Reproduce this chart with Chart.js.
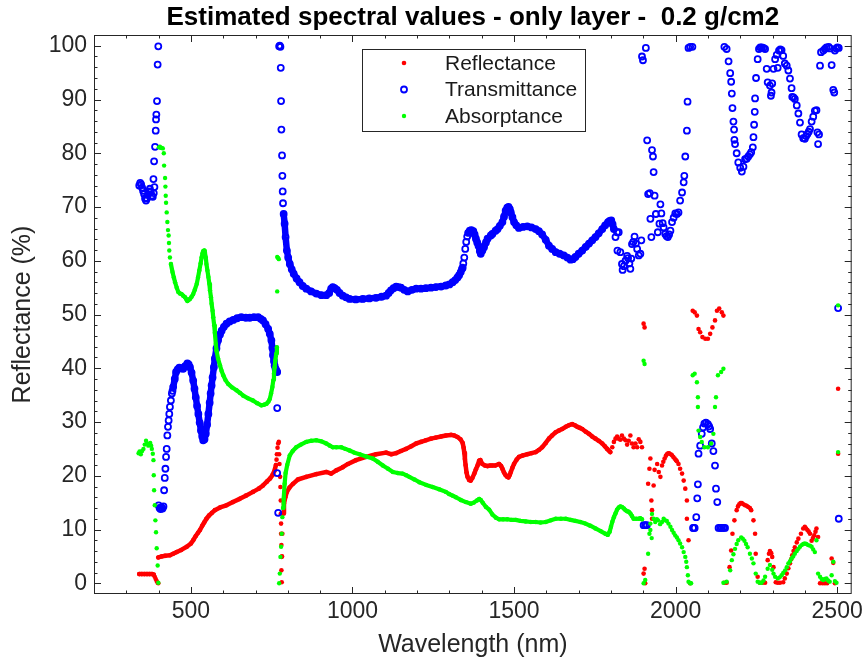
<!DOCTYPE html>
<html>
<head>
<meta charset="utf-8">
<script src="https://cdn.jsdelivr.net/npm/chart.js@4.4.1/dist/chart.umd.min.js"></script>
<style>
  html, body { margin: 0; padding: 0; background: #fff; }
  canvas { display: block; }
</style>
</head>
<body>
<canvas id="chart" width="867" height="664"></canvas>
<script>
// --- Data: [wavelength nm, percent] ---
const titleText = 'Estimated spectral values - only layer -  0.2 g/cm2';
const xTicks = [500, 1000, 1500, 2000, 2500];
const yTicks = [0, 10, 20, 30, 40, 50, 60, 70, 80, 90, 100];
const seriesNames = ['Reflectance', 'Transmittance', 'Absorptance'];

// Reflectance (red)
const reflCurve1 = [[340,1.7],[348,1.7],[356,1.7],[364,1.7],[372,1.7],[380,1.7],[385,1.6]];
const reflCurve2 = [[399,4.8],[410,5.0],[420,5.1],[435,5.2],[445,5.5],[456,5.8],[470,6.2],[487,6.8],[500,7.4],[507,8.0],[515,8.8],[522,9.4],[528,9.9],[535,10.7],[541,11.3],[548,12.0],[556,12.6],[565,13.1],[574,13.6],[590,14.1],[610,14.5],[630,15.1],[651,15.7],[670,16.3],[692,17.0],[710,17.6],[723,18.2],[735,18.9],[745,19.5],[752,20.1],[759,21.0],[763,22.0]];
const reflCurve3 = [[785,13.0],[788,14.8],[792,16.0],[797,17.0],[805,17.8],[816,18.5],[831,19.3],[857,19.8],[888,20.3],[919,20.7],[934,20.4],[950,21.0],[970,21.6],[986,22.2],[1011,22.9],[1042,23.5],[1073,24.0],[1104,24.3],[1120,24.0],[1135,24.2],[1150,24.6],[1166,25.0],[1182,25.5],[1197,26.0],[1212,26.3],[1227,26.6],[1243,26.9],[1258,27.1],[1274,27.3],[1289,27.5],[1305,27.6],[1315,27.5],[1325,27.2],[1334,26.8],[1341,26.1],[1344,25.2],[1346,24.3],[1348,23.1],[1350,22.0],[1353,20.6],[1356,19.8],[1361,19.2],[1366,19.1],[1371,19.6],[1377,20.4],[1382,21.2],[1387,21.9],[1392,22.8],[1396,22.9],[1402,22.2],[1410,21.9],[1418,21.8],[1426,21.9],[1433,21.9],[1442,21.9],[1454,22.2],[1460,21.8],[1464,21.3],[1469,20.6],[1474,20.1],[1479,19.8],[1483,19.7],[1487,20.2],[1490,20.7],[1495,21.5],[1500,22.2],[1508,23.0],[1515,23.5],[1528,23.8],[1541,24.0],[1554,24.2],[1567,24.4],[1577,24.8],[1587,25.3],[1598,26.1],[1608,26.9],[1618,27.5],[1629,28.1],[1639,28.4],[1649,28.7],[1660,29.1],[1670,29.4],[1680,29.6],[1688,29.4],[1696,29.1],[1704,28.9],[1711,28.7],[1722,28.2],[1732,27.8],[1742,27.3],[1752,26.9],[1762,26.5],[1773,26.0],[1781,25.5],[1788,25.0],[1793,24.7],[1798,24.4]];
const reflDots = [[388,1.2],[391,0.8],[394,0.4],[397,0.1],[399,0.0],
  [765,23.0],[766,24.0],[768,25.2],[770,26.0],[772,26.3],[773,24.0],[774,22.2],[776,19.8],[777,17.9],[778,15.4],[778,12.9],[779,11.1],[779,9.2],[780,7.1],[780,4.9],[780,2.4],[781,0.2],[782,5.0],[783,9.2],
  [1804,25.3],[1809,26.3],[1814,26.9],[1819,27.3],[1824,26.9],[1829,26.7],[1834,27.5],[1840,26.9],[1845,26.6],[1850,25.8],[1855,26.5],[1860,27.5],[1865,26.0],[1870,25.3],[1876,26.0],[1881,25.3],[1886,26.8],[1891,26.3],[1896,25.3],
  [1901,48.3],[1904,47.6],[1901,1.8],[1904,2.7],[1906,0.0],[1915,18.5],[1919,21.3],[1922,23.2],[1925,15.4],[1927,13.6],[1927,12.0],[1932,18.2],[1935,21.1],[1943,22.2],[1948,20.7],[1953,19.8],[1958,21.9],[1962,22.6],[1966,23.2],[1970,23.7],[1973,24.0],[1977,24.2],[1980,24.2],[1985,24.0],[1989,23.8],[1993,23.5],[1997,23.2],[2001,22.9],[2004,22.7],[2009,22.2],[2014,21.3],[2020,20.4],[2025,19.1],[2030,17.6],[2035,15.4],[2035,12.0],[2040,8.0],[2045,0.0],
  [2053,50.7],[2059,50.4],[2066,49.8],[2071,47.3],[2076,46.7],[2083,45.8],[2092,45.5],[2100,45.5],[2107,46.4],[2114,47.6],[2122,48.9],[2128,50.7],[2135,51.1],[2143,50.4],[2148,49.8],
  [2151,0.1],[2158,0.1],[2167,3.0],[2172,6.1],[2176,9.2],[2182,11.7],[2189,13.6],[2193,14.3],[2197,14.7],[2201,14.9],[2205,14.9],[2210,14.7],[2215,14.5],[2220,14.4],[2225,14.2],[2230,14.0],[2234,13.6],[2241,11.7],[2246,9.2],[2248,5.5],[2254,1.2],[2261,0.1],[2269,0.1],[2277,0.1],[2285,4.3],[2289,5.5],[2292,6.0],[2296,5.6],[2299,4.9],[2303,3.0],[2310,0.2],[2316,0.1],[2323,0.1],[2333,0.2],[2338,0.9],[2344,1.8],[2349,2.8],[2354,3.7],[2358,4.5],[2361,5.2],[2365,6.0],[2369,6.7],[2375,7.6],[2380,8.3],[2388,9.2],[2395,10.2],[2400,10.5],[2404,10.2],[2408,9.9],[2412,9.6],[2416,9.2],[2421,7.9],[2425,8.4],[2429,8.9],[2433,9.6],[2436,10.2],[2441,8.6],[2447,0.0],[2455,0.0],[2462,0.0],[2469,0.0],[2483,4.6],[2488,3.8],[2493,0.0],[2503,36.2],[2503,24.1]];

// Transmittance (blue)
const transCurve1 = [[445,36.5],[450,38.0],[454,39.3],[459,39.8],[464,40.1],[470,40.0],[476,39.9],[482,40.4],[489,40.9],[493,40.7],[497,40.2],[502,39.2],[507,37.7],[511,36.2],[515,34.6],[519,33.0],[523,31.5],[527,29.9],[531,28.4],[535,27.3],[538,26.6],[542,26.8],[546,27.8],[550,29.5],[554,31.5],[558,33.6],[561,35.3],[564,36.8],[567,38.3],[571,40.2],[574,41.8],[579,43.7],[584,45.2],[590,46.3],[595,47.0],[602,47.7],[610,48.3],[620,48.7],[631,49.0],[643,49.3],[656,49.5],[670,49.4],[682,49.4],[695,49.5],[708,49.5],[716,49.2],[723,48.9],[731,48.2],[739,47.3],[744,46.4],[749,45.2],[752,43.8],[754,42.4],[757,41.3],[759,40.5],[762,39.9],[764,39.6],[767,39.3]];
const transCurve2 = [[787,68.7],[790,66.9],[793,64.4],[797,61.9],[801,60.6],[806,59.4],[812,58.4],[818,57.6],[827,56.7],[836,56.0],[846,55.3],[857,54.8],[872,54.3],[888,53.9],[904,53.6],[919,53.6],[928,54.0],[934,54.8],[939,55.1],[945,54.9],[952,54.6],[960,54.0],[970,53.5],[980,53.2],[991,52.9],[1010,52.8],[1032,52.9],[1052,53.0],[1073,53.1],[1090,53.3],[1104,53.5],[1112,54.0],[1119,54.5],[1127,54.9],[1135,55.2],[1143,55.1],[1150,55.0],[1160,54.6],[1171,54.3],[1184,54.6],[1197,54.8],[1212,54.8],[1227,54.9],[1243,55.0],[1258,55.1],[1274,55.2],[1289,55.4],[1300,55.6],[1310,56.0],[1318,56.4],[1325,56.9],[1330,57.3],[1335,57.9],[1339,58.5]];
const transCurve3 = [[1358,65.2],[1363,65.6],[1368,65.7],[1374,65.5],[1378,64.9],[1382,64.1],[1386,63.4],[1390,62.8],[1394,61.8],[1397,61.3],[1402,61.9],[1407,62.5],[1413,63.4],[1418,64.1],[1428,64.7],[1433,65.0],[1443,65.6],[1449,65.9],[1456,66.5],[1464,67.2],[1469,68.2],[1474,69.3],[1479,69.9],[1483,70.0],[1487,69.6],[1490,69.0],[1495,68.1],[1500,67.2],[1507,66.6],[1515,66.1],[1528,66.3],[1541,66.4],[1554,66.2],[1567,65.9],[1577,65.5],[1587,64.9],[1598,63.9],[1608,62.8],[1618,62.2],[1629,61.6],[1641,61.3],[1654,61.0],[1665,60.6],[1675,60.2],[1682,60.3],[1690,60.7],[1700,61.3],[1711,61.9],[1722,62.6],[1732,63.2],[1742,63.8],[1752,64.4],[1762,65.1],[1773,65.9],[1782,66.6],[1791,67.2],[1796,67.4],[1801,67.5],[1805,66.8],[1809,65.9]];
const transDots = [[340,74.0],[343,74.5],[346,74.2],[349,73.6],[352,73.0],[355,72.4],[358,71.6],[361,71.2],[364,71.6],[367,72.3],[370,72.9],[373,73.4],[376,72.8],[379,72.1],[382,71.9],[385,72.6],[387,73.7],[384,75.2],[386,78.5],[389,81.2],[391,84.2],[392,86.3],[393,87.2],[395,89.7],[397,96.5],[399,99.9],
  [400,14.5],[403,14.0],[406,13.8],[409,14.1],[412,13.9],[415,14.3],[417,17.3],[419,19.6],[421,21.3],[423,23.5],[425,25.0],[427,27.5],[429,29.1],[431,30.3],[433,31.5],[435,32.8],[438,34.0],[441,35.3],[443,35.8],
  [767,32.6],[767,20.5],[770,13.1],[773,99.9],[775,100.0],[777,99.8],[778,95.9],[779,89.7],[780,84.4],[782,79.6],[783,75.8],[784,72.9],[785,70.7],
  [1341,58.7],[1343,59.5],[1346,60.6],[1349,62.2],[1352,63.5],[1355,64.5],
  [1814,64.4],[1819,65.3],[1820,61.9],[1824,65.3],[1829,61.6],[1834,59.4],[1836,58.3],[1840,59.0],[1845,60.0],[1850,60.9],[1853,60.5],[1857,59.5],[1860,58.5],[1863,60.4],[1865,63.1],[1869,63.5],[1873,64.5],[1877,63.2],[1881,62.2],[1886,61.0],[1891,61.3],[1894,63.8],[1896,98.0],[1899,97.3],[1908,99.6],[1912,82.4],[1915,72.4],[1920,72.6],[1922,67.8],[1925,64.4],[1927,80.6],[1930,79.4],[1932,76.5],[1935,72.1],[1939,68.7],[1945,65.3],[1950,66.9],[1953,70.5],[1956,68.8],[1960,67.0],[1963,66.2],[1968,65.0],[1972,64.6],[1976,64.4],[1980,64.9],[1984,65.6],[1989,67.2],[1994,68.0],[1999,68.8],[2004,68.7],[2009,69.0],[2014,71.2],[2020,72.7],[2025,74.6],[2027,75.8],[2030,79.4],[2035,84.2],[2037,89.6],[2040,99.6],[2045,99.8],[2052,99.8],
  [1901,10.8],[1906,10.8],[1911,10.8],[2054,10.3],[2056,10.3],[2059,10.3],[2064,12.3],[2067,15.8],[2069,18.4],[2071,24.1],[2076,25.6],[2081,27.8],[2085,29.0],[2089,29.7],[2094,29.9],[2100,29.6],[2104,29.2],[2107,28.7],[2112,26.0],[2117,24.6],[2122,21.9],[2125,17.6],[2129,15.1],[2133,10.3],[2138,10.3],[2143,10.3],[2148,10.3],[2153,10.3],
  [2151,99.8],[2158,99.4],[2164,97.1],[2169,94.9],[2172,93.3],[2174,91.1],[2176,88.4],[2179,85.9],[2181,84.4],[2182,82.5],[2184,81.7],[2189,80.0],[2194,78.3],[2200,77.3],[2205,76.6],[2210,77.5],[2215,78.9],[2220,79.0],[2225,79.4],[2230,79.8],[2234,80.2],[2239,81.1],[2241,83.0],[2243,85.3],[2245,87.7],[2246,90.2],[2249,94.0],[2254,97.5],[2258,99.4],[2262,99.7],[2267,99.7],[2272,99.6],[2277,99.4],[2282,95.7],[2285,93.2],[2292,92.6],[2295,90.7],[2297,91.3],[2299,93.0],[2303,95.7],[2308,97.5],[2313,98.3],[2316,95.9],[2320,99.1],[2324,99.3],[2328,99.2],[2333,98.1],[2338,96.7],[2344,96.3],[2349,95.4],[2354,93.9],[2359,92.1],[2361,90.5],[2365,90.4],[2369,90.1],[2375,88.9],[2380,87.4],[2385,85.7],[2390,83.5],[2395,82.8],[2400,82.7],[2404,83.2],[2408,83.6],[2412,84.0],[2416,84.5],[2421,85.9],[2426,86.8],[2431,87.9],[2436,88.0],[2439,83.9],[2441,81.7],[2444,83.5],[2447,96.3],[2450,98.8],[2457,99.1],[2462,99.4],[2467,99.7],[2474,99.8],[2478,99.5],[2483,96.4],[2488,91.8],[2491,91.3],[2493,99.1],[2497,99.5],[2501,99.7],[2505,99.6],[2503,51.2],[2505,12.0]];

// Absorptance (green)
const absCurve1 = [[438,59.4],[443,57.9],[447,56.9],[451,56.0],[456,55.0],[461,54.2],[466,53.9],[471,53.8],[476,53.5],[482,53.2],[486,52.8],[489,52.5],[493,52.7],[497,52.9],[502,53.3],[507,53.8],[512,54.6],[518,55.7],[522,56.9],[526,58.2],[530,59.5],[533,60.6],[536,61.4],[538,61.8],[541,61.9],[543,61.6],[546,60.6],[548,59.4],[551,58.2],[554,57.0],[557,55.7],[559,54.5],[562,53.2],[564,52.0],[567,50.7],[569,49.5],[572,48.0],[574,46.6],[577,44.5],[579,43.3],[584,41.8],[590,40.5],[595,39.5],[600,38.7],[607,37.8],[615,37.1],[628,36.4],[641,35.9],[652,35.4],[662,34.9],[677,34.4],[692,34.0],[705,33.5],[718,33.1],[726,33.2],[734,33.4],[740,33.8],[744,34.3],[748,35.3],[752,36.5],[755,37.8],[757,39.0],[759,40.2],[761,41.4],[764,42.7],[766,43.9]];
const absCurve2 = [[785,14.0],[787,15.7],[790,18.5],[793,20.5],[798,22.0],[806,23.8],[815,24.6],[826,25.3],[840,25.8],[857,26.3],[872,26.5],[888,26.6],[904,26.4],[919,26.0],[930,25.6],[939,25.3],[950,25.3],[965,25.3],[978,25.0],[991,24.7],[1006,24.3],[1022,24.0],[1042,23.6],[1063,23.2],[1078,22.6],[1094,21.9],[1110,21.3],[1125,20.7],[1140,20.5],[1155,20.4],[1166,20.1],[1176,19.8],[1192,19.3],[1207,18.8],[1228,18.3],[1248,17.9],[1268,17.5],[1289,17.0],[1299,16.6],[1310,16.3],[1320,16.0],[1335,15.5],[1351,15.1],[1366,14.8],[1375,15.0],[1385,15.4],[1392,15.7],[1397,15.5],[1403,15.0],[1413,14.2],[1423,13.7],[1433,12.8],[1444,12.2],[1454,11.9],[1466,11.9],[1479,11.9],[1492,11.8],[1505,11.8],[1520,11.6],[1536,11.5],[1552,11.4],[1567,11.4],[1582,11.3],[1598,11.4],[1614,11.7],[1629,12.0],[1645,12.0],[1660,12.0],[1675,11.8],[1690,11.6],[1705,11.4],[1721,11.1],[1736,10.7],[1752,10.2],[1768,9.7],[1783,9.2],[1790,9.0],[1796,9.6],[1800,10.5],[1804,11.4],[1809,12.3],[1814,13.0],[1819,13.7],[1824,14.1],[1829,14.3],[1834,14.2],[1840,13.9],[1845,13.6],[1850,13.4],[1855,13.3],[1860,13.0],[1865,12.5],[1870,12.0],[1878,12.0],[1886,12.0],[1891,12.1],[1896,11.9]];
const absDots = [[338,24.2],[341,24.5],[345,24.0],[349,24.6],[353,25.0],[357,25.8],[361,26.5],[364,26.0],[368,25.6],[371,25.9],[374,26.1],[377,25.6],[379,25.0],[382,24.1],
  [384,22.9],[385,20.1],[386,17.3],[388,14.5],[390,11.7],[392,9.5],[394,6.5],[397,3.3],[399,0.1],
  [401,81.1],[404,81.2],[407,81.0],[410,81.0],[413,80.9],[416,80.0],[417,77.7],[420,75.4],[421,73.8],[422,72.1],[423,70.8],[425,69.0],[427,67.2],[429,65.7],[431,64.7],[432,63.3],[433,61.9],[435,60.6],
  [767,60.7],[770,60.5],[772,60.3],[767,54.3],[773,0.0],[775,1.8],[777,4.9],[779,6.8],[781,9.2],[783,12.3],
  [1901,41.4],[1904,40.8],[1901,0.0],[1906,0.6],[1915,5.5],[1919,9.2],[1922,11.1],[1922,9.9],[1926,8.4],[1927,12.9],[1932,12.0],[1937,11.4],[1942,11.9],[1946,11.7],[1952,11.0],[1958,11.4],[1963,12.0],[1968,11.7],[1973,11.6],[1978,11.1],[1984,10.5],[1989,9.9],[1994,9.4],[1999,8.9],[2004,8.5],[2009,8.0],[2014,7.4],[2020,6.7],[2025,5.8],[2030,4.9],[2033,4.0],[2035,3.0],[2038,1.5],[2040,0.3],[2045,0.0],[2048,0.0],
  [2053,38.7],[2059,39.0],[2066,37.4],[2069,34.6],[2069,32.8],[2071,28.4],[2076,27.2],[2081,26.3],[2089,25.3],[2100,25.3],[2110,26.0],[2117,27.8],[2122,32.8],[2125,34.6],[2131,38.7],[2141,39.3],[2148,39.9],
  [2148,0.1],[2158,0.3],[2169,2.4],[2174,4.3],[2179,5.4],[2184,6.4],[2189,7.3],[2194,8.0],[2203,8.5],[2208,8.3],[2213,7.9],[2218,7.3],[2223,6.7],[2230,5.5],[2236,4.6],[2241,3.7],[2248,1.8],[2254,0.3],[2260,0.1],[2266,0.1],[2272,0.5],[2277,1.2],[2285,2.7],[2292,3.4],[2299,2.5],[2303,1.8],[2308,1.2],[2316,0.9],[2322,1.1],[2328,1.5],[2333,1.9],[2339,2.4],[2344,3.0],[2349,3.7],[2354,4.1],[2359,4.6],[2364,5.0],[2369,5.5],[2375,6.0],[2380,6.4],[2385,6.8],[2390,7.1],[2395,7.3],[2400,7.4],[2405,7.3],[2410,7.1],[2416,7.0],[2421,6.8],[2426,6.3],[2431,5.8],[2436,8.0],[2441,1.8],[2447,1.2],[2452,0.8],[2457,0.6],[2462,0.8],[2467,0.9],[2472,0.5],[2477,0.3],[2483,1.5],[2488,4.0],[2493,0.4],[2498,0.1],[2503,24.4],[2503,51.7]];

// --- Styling ---
const textColor = '#262626';
const fontFamily = '"Liberation Sans", Arial, Helvetica, sans-serif';
const red = '#ff0000', blue = '#0000ff', green = '#00ff00';

const toXY = arr => arr.map(([x, y]) => ({ x, y }));

const styles = {
  Reflectance:   { color: red,   radius: 2.3, hollow: false, lineW: 4.5, order: 3 },
  Transmittance: { color: blue,  radius: 3.0, hollow: true,  lineW: 6.5, order: 2 },
  Absorptance:   { color: green, radius: 2.2, hollow: false, lineW: 4.2, order: 1 }
};

function makeSet(name, pts, asLine) {
  const s = styles[name];
  return {
    label: name,
    data: toXY(pts),
    showLine: asLine,
    borderColor: s.color,
    borderWidth: s.lineW,
    borderCapStyle: 'round',
    borderJoinStyle: 'round',
    pointRadius: s.radius,
    pointHoverRadius: s.radius,
    pointBackgroundColor: s.hollow ? 'rgba(0,0,0,0)' : s.color,
    pointBorderColor: s.color,
    pointBorderWidth: s.hollow ? 1.8 : 0,
    order: s.order
  };
}

const datasets = [
  makeSet('Reflectance', reflCurve1, true),
  makeSet('Reflectance', reflCurve2, true),
  makeSet('Reflectance', reflCurve3, true),
  makeSet('Reflectance', reflDots, false),
  makeSet('Transmittance', transCurve1, true),
  makeSet('Transmittance', transCurve2, true),
  makeSet('Transmittance', transCurve3, true),
  makeSet('Transmittance', transDots, false),
  makeSet('Absorptance', absCurve1, true),
  makeSet('Absorptance', absCurve2, true),
  makeSet('Absorptance', absDots, false)
];

// Box, inward ticks on all four sides, title and legend (MATLAB look)
const frame = {
  id: 'frame',
  afterDatasetsDraw(chart) {
    const { ctx, chartArea: a, scales: { x, y } } = chart;
    ctx.save();
    ctx.strokeStyle = textColor;
    ctx.lineWidth = 1;
    ctx.strokeRect(a.left + 0.5, a.top + 0.5, a.right - a.left - 1, a.bottom - a.top - 1);
    ctx.beginPath();
    for (let v = 200; v <= 2500; v += 100) {
      const len = xTicks.includes(v) ? 7 : 3.5;
      const px = Math.round(x.getPixelForValue(v)) + 0.5;
      ctx.moveTo(px, a.bottom); ctx.lineTo(px, a.bottom - len);
      ctx.moveTo(px, a.top); ctx.lineTo(px, a.top + len);
    }
    for (let v = 0; v <= 100; v += 2) {
      const len = yTicks.includes(v) ? 7 : 3.5;
      const py = Math.round(y.getPixelForValue(v)) + 0.5;
      ctx.moveTo(a.left, py); ctx.lineTo(a.left + len, py);
      ctx.moveTo(a.right, py); ctx.lineTo(a.right - len, py);
    }
    ctx.stroke();

    // title
    ctx.fillStyle = '#000';
    ctx.font = 'bold 26px ' + fontFamily;
    ctx.textAlign = 'center';
    ctx.textBaseline = 'middle';
    ctx.fillText(titleText, (a.left + a.right) / 2, 18);

    // legend
    const box = { x: 362, y: 49, w: 223, h: 82 };
    ctx.fillStyle = '#fff';
    ctx.fillRect(box.x, box.y, box.w, box.h);
    ctx.strokeStyle = textColor;
    ctx.strokeRect(box.x + 0.5, box.y + 0.5, box.w, box.h);
    ctx.font = '21px ' + fontFamily;
    ctx.textAlign = 'left';
    seriesNames.forEach((name, i) => {
      const s = styles[name];
      const cy = box.y + 14 + i * 26.5;
      ctx.beginPath();
      ctx.arc(box.x + 42, cy, s.radius, 0, Math.PI * 2);
      if (s.hollow) { ctx.strokeStyle = s.color; ctx.lineWidth = 1.8; ctx.stroke(); }
      else { ctx.fillStyle = s.color; ctx.fill(); }
      ctx.fillStyle = '#1a1a1a';
      ctx.fillText(name, box.x + 83, cy + 1);
    });
    ctx.restore();
  }
};

new Chart(document.getElementById('chart'), {
  type: 'scatter',
  data: { datasets },
  options: {
    responsive: false,
    animation: false,
    events: [],
    layout: { padding: { top: 35, right: 14, left: 0, bottom: 0 } },
    plugins: { legend: { display: false }, tooltip: { enabled: false }, title: { display: false } },
    scales: {
      x: {
        type: 'linear', min: 200, max: 2545,
        afterFit(scale) { scale.height = 70; },
        afterBuildTicks(scale) { scale.ticks = xTicks.map(v => ({ value: v })); },
        grid: { display: false, drawTicks: false },
        border: { display: false },
        ticks: { color: textColor, font: { family: fontFamily, size: 23 }, padding: 4, maxRotation: 0, callback: v => String(v) },
        title: { display: true, text: 'Wavelength (nm)', color: textColor, font: { family: fontFamily, size: 25 }, padding: { top: 0, bottom: 4 } }
      },
      y: {
        type: 'linear', min: -2, max: 102,
        afterFit(scale) { scale.width = 94; },
        afterBuildTicks(scale) { scale.ticks = yTicks.map(v => ({ value: v })); },
        grid: { display: false, drawTicks: false },
        border: { display: false },
        ticks: { color: textColor, font: { family: fontFamily, size: 23 }, padding: 7, callback: v => String(v) },
        title: { display: true, text: 'Reflectance (%)', color: textColor, font: { family: fontFamily, size: 25 }, padding: { top: 8, bottom: 0 } }
      }
    }
  },
  plugins: [frame]
});
</script>
</body>
</html>
